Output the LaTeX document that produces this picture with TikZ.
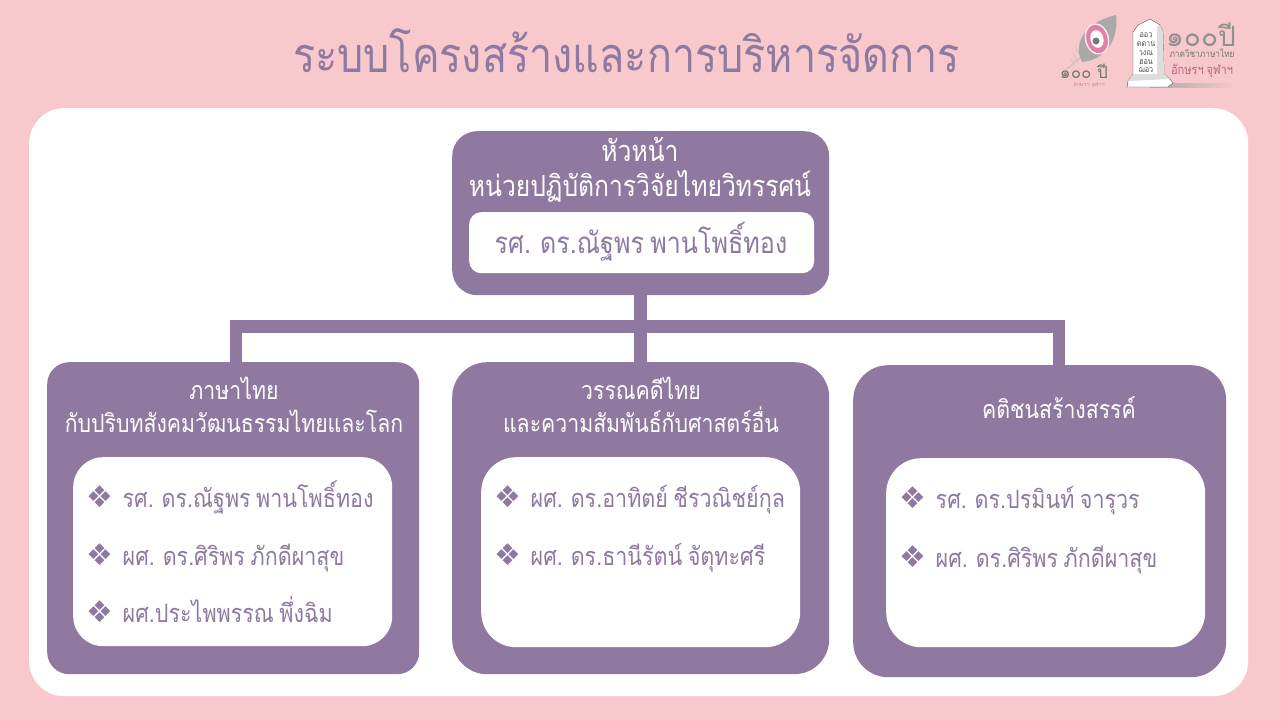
\documentclass[tikz,border=0pt]{standalone}
\usepackage{fontspec}
\setmainfont[Script=Thai,FakeStretch=0.85,WordSpace=0.75]{Loma}
\newfontfamily\plainthai[Script=Thai]{Loma}
\newfontfamily\symfont{DejaVu Sans}
\usetikzlibrary{calc}
\definecolor{mypurple}{HTML}{8F79A0}
\definecolor{mypink}{HTML}{F8C9CC}
\definecolor{myrose}{HTML}{E27FA8}
\definecolor{mygrey}{HTML}{A9A9A9}
\tikzset{
	panel/.style={fill=mypurple,rounded corners=#1,inner sep=0pt,anchor=north west},
	panel/.default=35,
	card/.style={fill=white,rounded corners=#1,inner sep=0pt,anchor=north west},
	card/.default=35,
	headtext/.style={text=white,font=\fontsize{25}{33}\selectfont,align=center,inner sep=0pt},
	nametext/.style={text=mypurple,font=\fontsize{25.3}{30}\selectfont,anchor=base west,inner sep=0pt},
	bullet/.style={text=mypurple,font=\fontsize{30}{30}\symfont,inner sep=0pt},
	link/.style={draw=mypurple,line width=12.5}
}
\newcommand{\person}[4]{%
	\node[bullet] (#1b) at (#2,#3) {❖};
	\node[nametext] (#1) at ($(#2,#3)+(22.5,10)$) {#4};
}
\begin{document}
\begin{tikzpicture}[x=1pt,y=-1pt]
	\useasboundingbox (0,0) rectangle (1280,720);
	% Draw background
	\fill[mypink] (0,0) rectangle (1280,720);
	\node[card=35,minimum width=1219,minimum height=588] (sheet) at (29,108) {};
	\node[text=mypurple,font=\fontsize{48.6}{56}\selectfont,inner sep=0pt] (title) at (626.5,51) {ระบบโครงสร้างและการบริหารจัดการ};

	% Draw the boxes
	\node[panel=25,minimum width=377,minimum height=164] (head) at (452,131) {};
	\node[panel=22,minimum width=372,minimum height=312] (thai) at (47,362) {};
	\node[panel=35,minimum width=377,minimum height=312] (lit) at (452,362) {};
	\node[panel=35,minimum width=373,minimum height=312] (folk) at (853,365) {};

	% Draw the links
	\coordinate (barmid) at (640.5,326.5);
	\coordinate (barleft) at (236,326.5);
	\coordinate (barright) at (1059,326.5);
	\draw[link] (barmid |- head.south) -- (barmid |- lit.north);
	\draw[link] (barleft |- thai.north) -- (barleft) -- (barright) -- (barright |- folk.north);

	% Draw the inner cards
	\node[card=12,minimum width=345,minimum height=61] (headcard) at (469,212) {};
	\node[card=30,minimum width=319,minimum height=189] (thaicard) at (73,457) {};
	\node[card=35,minimum width=319,minimum height=190] (litcard) at (481,457) {};
	\node[card=35,minimum width=319,minimum height=189] (folkcard) at (886,458) {};

	% Draw the headings
	\node[headtext,font=\fontsize{29}{35}\selectfont] (headtitle) at (640,170) {หัวหน้า\\หน่วยปฏิบัติการวิจัยไทยวิทรรศน์};
	\node[headtext] (thaititle) at (234,405) {ภาษาไทย\\กับปริบทสังคมวัฒนธรรมไทยและโลก};
	\node[headtext] (littitle) at (641,405) {วรรณคดีไทย\\และความสัมพันธ์กับศาสตร์อื่น};
	\node[headtext] (folktitle) at (1059,408) {คติชนสร้างสรรค์};
	\node[nametext,anchor=base,font=\fontsize{29.5}{34}\selectfont] (headname) at (641,253) {รศ. ดร.ณัฐพร พานโพธิ์ทอง};

	% Draw the names
	\person{thaione}{100}{497}{รศ. ดร.ณัฐพร พานโพธิ์ทอง}
	\person{thaitwo}{100}{555}{ผศ. ดร.ศิริพร ภักดีผาสุข}
	\person{thaithree}{100}{612}{ผศ.ประไพพรรณ พึ่งฉิม}
	\person{litone}{508}{497}{ผศ. ดร.อาทิตย์ ชีรวณิชย์กุล}
	\person{littwo}{508}{555}{ผศ. ดร.ธานีรัตน์ จัตุทะศรี}
	\person{folkone}{913}{498}{รศ. ดร.ปรมินท์ จารุวร}
	\person{folktwo}{913}{557}{ผศ. ดร.ศิริพร ภักดีผาสุข}

	% Draw the feather logo
	\draw[mygrey!70!white,line width=0.8] (1065,71) .. controls (1072,64) and (1080,58) .. (1089,50);
	\draw[mygrey!70!white,line width=0.6] (1073,53) -- (1078,62) (1076,47) -- (1081,58) (1070,59) -- (1075,65);
	\fill[mygrey] (1082,62) .. controls (1071,40) and (1090,21) .. (1116,15) .. controls (1119,36) and (1108,60) .. (1082,62);
	\fill[white!60!mypink,rotate around={15:(1097,39)}] (1097,39) ellipse [x radius=12,y radius=16];
	\fill[myrose,rotate around={15:(1097,39)}] (1097,39) ellipse [x radius=10.5,y radius=14.5];
	\fill[white,rotate around={15:(1097,39)}] (1097,39) ellipse [x radius=6.5,y radius=9];
	\fill[mygrey!70!black] (1096,41) circle (3.5);
	\node[text=mygrey!70!black,font=\fontsize{17}{17}\plainthai,inner sep=0pt] (featheryear) at (1084,71) {๑๐๐ ปี};
	\node[text=myrose,font=\fontsize{5.5}{5.5}\plainthai,inner sep=0pt] (feathername) at (1089,85) {อักษรฯ จุฬาฯ};

	% Draw the stone logo
	\shade[left color=mygrey,right color=mypink] (1150,83) rectangle (1236,87);
	\draw[black!70,fill=white] (1133,74) -- (1133,32) -- (1138,25) -- (1150,19) -- (1160,25) -- (1163,32) -- (1164,74) -- (1170,79) -- (1173,83) -- (1168,87) -- (1127,87) -- (1128,81) -- cycle;
	\fill[mygrey!40] (1157,26) -- (1160,25) -- (1163,32) -- (1164,74) -- (1157,74) -- cycle;
	\fill[mygrey!40] (1133,74) -- (1164,74) -- (1170,79) -- (1128,81) -- cycle;
	\node[text=black!70,font=\fontsize{8.5}{8.8}\selectfont,align=center,inner sep=0pt] (stonetext) at (1146,53) {ออว\\ตดาน\\วงณ\\ฮอน\\ฌอว};
	\node[text=mygrey!85!black,font=\fontsize{28}{28}\plainthai,inner sep=0pt] (stoneyear) at (1201,35) {๑๐๐ปี};
	\node[text=mygrey!70!black,font=\fontsize{9.7}{9.7}\selectfont,inner sep=0pt] (stonedept) at (1202,53.5) {ภาควิชาภาษาไทย};
	\node[text=myrose!80!black,font=\fontsize{13}{13}\selectfont,inner sep=0pt] (stonefac) at (1202,71) {อักษรฯ จุฬาฯ};
\end{tikzpicture}
\end{document}
